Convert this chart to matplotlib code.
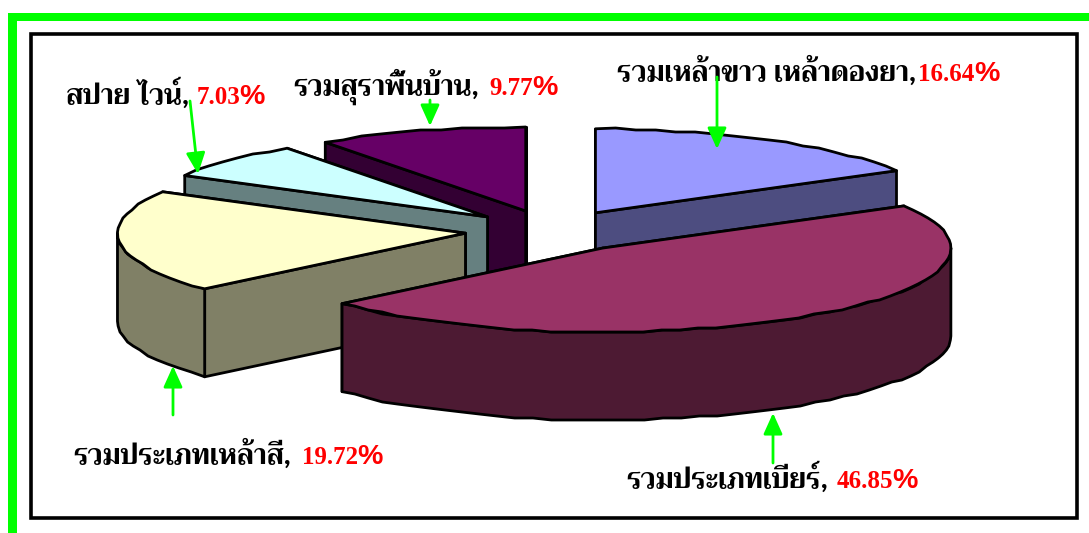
import numpy as np
import matplotlib
matplotlib.use('Agg')
import matplotlib.pyplot as plt
import matplotlib.patches as patches

# Chart data
categories = ['รวมเหล้าขาว เหล้าดองยา', 'รวมประเภทเบียร์', 'รวมประเภทเหล้าสี', 'สปาย ไวน์', 'รวมสุราพื้นบ้าน']
values = [16.64, 46.85, 19.72, 7.03, 9.77]
colors = ['#9999FF', '#993366', '#FFFFCC', '#CCFFFF', '#660066']

# Pie geometry in pixels
cx, cy = 552, 231
rx, ry = 348, 84
depth = 88
explode = 0.25

# name x, baseline y, value x, percent x
label_pos = [(617, 81, 918, 974), (626, 488, 837, 892), (73, 464, 302, 357), (66, 104, 197, 239), (293, 95, 489, 532)]
thai_font = ['Trirong', 'Noto Sans Thai', 'DejaVu Sans']

fig = plt.figure(figsize=(10.89, 5.33), dpi=100)
ax = fig.add_axes([0, 0, 1, 1])
ax.set_xlim(0, 1089)
ax.set_ylim(533, 0)
ax.axis('off')

# Green frame and black box
ax.add_patch(patches.Rectangle((8, 13), 1081, 8, facecolor='#00FF00', edgecolor='none'))
ax.add_patch(patches.Rectangle((8, 13), 9, 520, facecolor='#00FF00', edgecolor='none'))
ax.add_patch(patches.Rectangle((31, 34), 1046, 484, facecolor='white', edgecolor='black', lw=2.6))


def project(x0, y0, a):
    return x0 + rx * np.sin(a), y0 - ry * np.cos(a)


def arc_points(x0, y0, a0, a1):
    a = np.linspace(a0, a1, max(int(np.degrees(a1 - a0) / 3), 2))
    x, y = project(x0, y0, a)
    # rough stepped outline like the old chart renderer
    y[1:-1] = np.round(y[1:-1] / 2) * 2
    return np.column_stack([x, y])


def side_color(c):
    return tuple(v * 0.5 for v in matplotlib.colors.to_rgb(c))


def poly(pts, fc):
    ax.add_patch(patches.Polygon(pts, closed=True, facecolor=fc, edgecolor='black', lw=2.0, joinstyle='round'))


edges = np.cumsum([0] + values) / sum(values) * 2 * np.pi
slices = []
for i in range(len(values)):
    a0, a1 = edges[i], edges[i + 1]
    mid = (a0 + a1) / 2
    x0, y0 = project(0, 0, mid)
    slices.append((cy + y0 * explode, cx + x0 * explode, a0, a1, colors[i]))

# Back slices first
for y0, x0, a0, a1, c in sorted(slices, key=lambda s: s[0]):
    side = side_color(c)
    ends = sorted([a0, a1], key=lambda a: project(x0, y0, a)[1])
    for a in ends:
        ex, ey = project(x0, y0, a)
        poly([(x0, y0), (ex, ey), (ex, ey + depth), (x0, y0 + depth)], side)
    # outer wall, front half only
    f0, f1 = max(a0, np.pi / 2), min(a1, 3 * np.pi / 2)
    if f1 > f0:
        arc = arc_points(x0, y0, f0, f1)
        poly(np.vstack([arc, (arc + [0, depth])[::-1]]), side)
    poly(np.vstack([[(x0, y0)], arc_points(x0, y0, a0, a1)]), c)

# Labels
for name, v, (tx, ty, vx, px) in zip(categories, values, label_pos):
    ax.text(tx, ty, name + ',', family=thai_font, fontweight='bold', fontsize=19.9, color='black', va='baseline', ha='left')
    ax.text(vx, ty, f'{v:.2f}', family='Liberation Serif', fontweight='bold', fontsize=18, color='#FF0000', va='baseline', ha='left')
    ax.text(px, ty, '%', family='Liberation Sans', fontweight='bold', fontsize=20.5, color='#FF0000', va='baseline', ha='left')

# Green arrows
arrows = [((717, 77), (717, 149)), ((430, 100), (430, 126)), ((190, 101), (198, 174)), ((173, 415), (173, 366)), ((773, 463), (773, 413))]
for start, tip in arrows:
    ax.annotate('', xy=tip, xytext=start,
                arrowprops=dict(arrowstyle='-|>,head_length=0.8,head_width=0.36', color='#00FF00', lw=2.0,
                                mutation_scale=16, shrinkA=0, shrinkB=0))

fig.savefig('out.png', dpi=100)
